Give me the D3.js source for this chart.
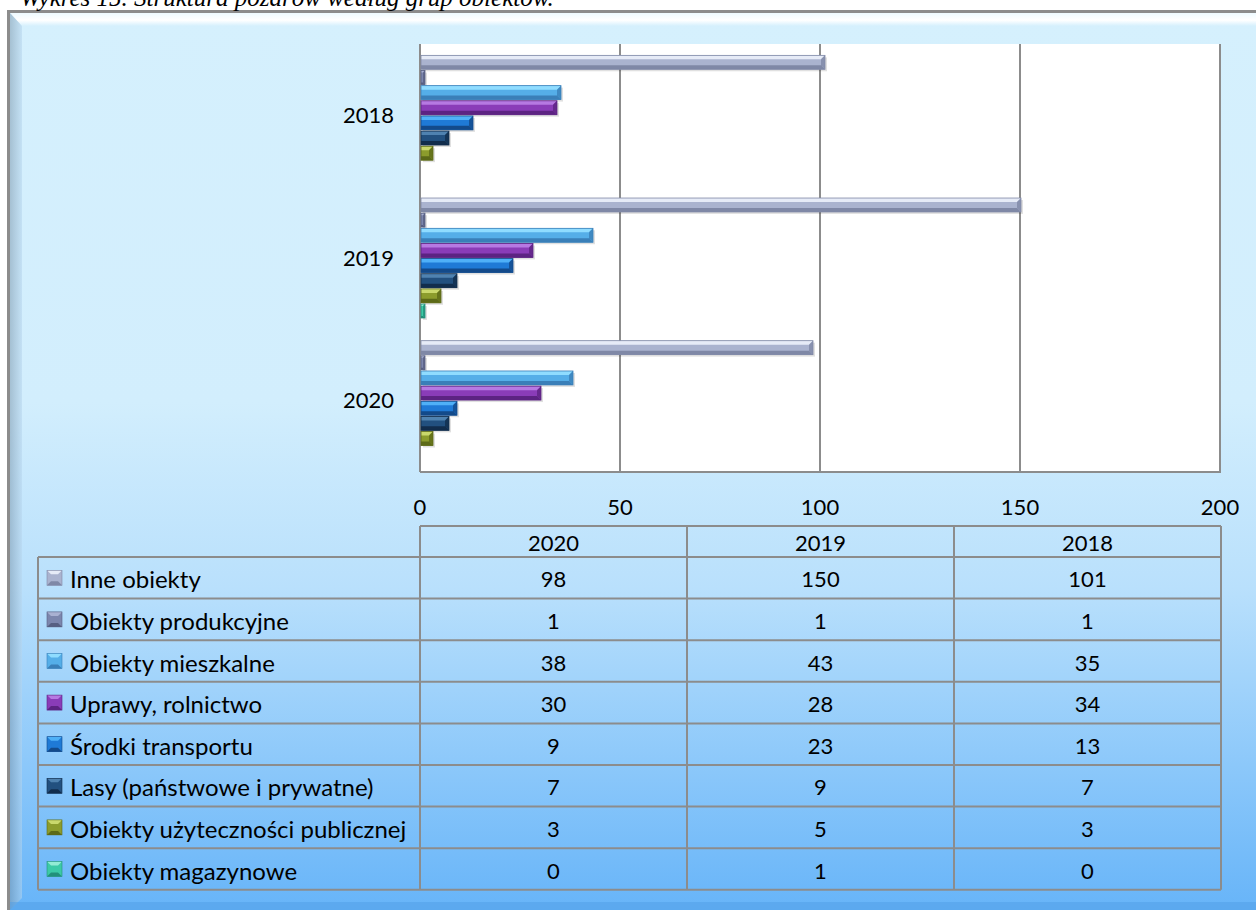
<!DOCTYPE html>
<html>
<head>
<meta charset="utf-8">
<script src="https://cdn.jsdelivr.net/npm/d3@7/dist/d3.min.js"></script>
<style>
  body { margin: 0; background: #fff; }
  svg { display: block; }
</style>
</head>
<body>
<script>
// chart data
var years = ["2020", "2019", "2018"];          // table column order
var chartYears = ["2018", "2019", "2020"];     // top-to-bottom in the chart
var seriesNames = [
  "Inne obiekty",
  "Obiekty produkcyjne",
  "Obiekty mieszkalne",
  "Uprawy, rolnictwo",
  "Środki transportu",
  "Lasy (państwowe i prywatne)",
  "Obiekty użyteczności publicznej",
  "Obiekty magazynowe"
];
var inneObiekty = [98, 150, 101];
var obiektyProdukcyjne = [1, 1, 1];
var obiektyMieszkalne = [38, 43, 35];
var uprawy = [30, 28, 34];
var srodkiTransportu = [9, 23, 13];
var lasy = [7, 9, 7];
var uzytecznosciPublicznej = [3, 5, 3];
var obiektyMagazynowe = [0, 1, 0];
var xTicks = [0, 50, 100, 150, 200];
var titleText = "Wykres 15. Struktura pożarów według grup obiektów.";

var seriesValues = [inneObiekty, obiektyProdukcyjne, obiektyMieszkalne, uprawy,
  srodkiTransportu, lasy, uzytecznosciPublicznej, obiektyMagazynowe];

// base / light / dark for each series
var palette = [
  { base: "#aab3cf", light: "#e6ebf7", dark: "#7f88a6" },
  { base: "#7c86ad", light: "#a9b1d2", dark: "#575f82" },
  { base: "#55aee8", light: "#8fdcff", dark: "#3a7fb8" },
  { base: "#8a3cb8", light: "#b679e2", dark: "#5c2382" },
  { base: "#1f7ad6", light: "#4fb0f7", dark: "#134a8a" },
  { base: "#22507f", light: "#4f82b0", dark: "#122d4c" },
  { base: "#8c9c2c", light: "#cad86c", dark: "#5c6a18" },
  { base: "#3ccaa6", light: "#93ecd4", dark: "#22907a" }
];

main();

function main() {
  setupCanvas();
  drawFrame();
  drawTitle();
  setupScales();
  drawPlotArea();
  drawBars();
  drawAxisLabels();
  drawTable();
}

function setupCanvas() {
  W = 1256;
  H = 910;
  plot = { left: 420, right: 1220, top: 44, bottom: 472 };
  svg = d3.select("body").append("svg")
    .attr("width", W)
    .attr("height", H);
  defs = svg.append("defs");
}

function drawFrame() {
  var bg = defs.append("linearGradient")
    .attr("id", "bg").attr("x1", 0).attr("y1", 0).attr("x2", 0).attr("y2", 1);
  bg.append("stop").attr("offset", "0%").attr("stop-color", "#d5f0fd");
  bg.append("stop").attr("offset", "42%").attr("stop-color", "#d2eefd");
  bg.append("stop").attr("offset", "62%").attr("stop-color", "#b9e0fc");
  bg.append("stop").attr("offset", "100%").attr("stop-color", "#5fb0f8");

  var top = defs.append("linearGradient")
    .attr("id", "topBevel").attr("x1", 0).attr("y1", 0).attr("x2", 0).attr("y2", 1);
  top.append("stop").attr("offset", "0%").attr("stop-color", "#eefaff");
  top.append("stop").attr("offset", "55%").attr("stop-color", "#ffffff");
  top.append("stop").attr("offset", "100%").attr("stop-color", "#d5f0fd");

  var left = defs.append("linearGradient")
    .attr("id", "leftBevel").attr("x1", 0).attr("y1", 0).attr("x2", 1).attr("y2", 0);
  left.append("stop").attr("offset", "0%").attr("stop-color", "#7f9ab0");
  left.append("stop").attr("offset", "100%").attr("stop-color", "#b7d6ee");

  svg.append("rect")
    .attr("x", 8.5).attr("y", 11.5)
    .attr("width", W + 20).attr("height", H + 20)
    .attr("fill", "url(#bg)")
    .attr("stroke", "#8c8c8c")
    .attr("stroke-width", 3);

  svg.append("polygon")
    .attr("points", [[10, 13], [W, 13], [W, 26], [22, 26]].join(" "))
    .attr("fill", "url(#topBevel)");

  svg.append("polygon")
    .attr("points", [[10, 13], [22, 26], [22, H - 12], [10, H]].join(" "))
    .attr("fill", "url(#leftBevel)")
    .attr("opacity", 0.55);

  svg.append("rect")
    .attr("x", 10).attr("y", H - 8).attr("width", W).attr("height", 8)
    .attr("fill", "#4f9ee6").attr("opacity", 0.5);
}

function drawTitle() {
  svg.append("text")
    .attr("x", 20).attr("y", 6)
    .style("font-family", "'Liberation Serif', serif")
    .style("font-style", "italic")
    .style("font-size", "25px")
    .attr("fill", "#000")
    .text(titleText);
}

function setupScales() {
  x = d3.scaleLinear().domain([0, 200]).range([plot.left, plot.right]);
  yOuter = d3.scaleBand().domain(chartYears).range([plot.top, plot.bottom]).paddingInner(0).paddingOuter(0);
  yInner = d3.scaleBand().domain(d3.range(seriesNames.length))
    .range([0, yOuter.bandwidth()]).paddingOuter(0.75).paddingInner(0.08);
}

function drawPlotArea() {
  svg.append("rect")
    .attr("x", plot.left).attr("y", plot.top)
    .attr("width", plot.right - plot.left).attr("height", plot.bottom - plot.top)
    .attr("fill", "#fff");

  svg.append("g").selectAll("line")
    .data(xTicks)
    .enter().append("line")
    .attr("x1", function (d) { return x(d); })
    .attr("x2", function (d) { return x(d); })
    .attr("y1", plot.top).attr("y2", plot.bottom)
    .attr("stroke", "#8c8c8c").attr("stroke-width", 2);

  svg.append("line")
    .attr("x1", plot.left).attr("x2", plot.right + 1)
    .attr("y1", plot.bottom).attr("y2", plot.bottom)
    .attr("stroke", "#8c8c8c").attr("stroke-width", 2);
}

// one bevelled bar, drawn into group g
function bevelBar(g, x0, y0, w, h, c) {
  var b = Math.min(4, w / 2, h / 3);
  var x1 = x0 + w, y1 = y0 + h;
  g.append("rect")
    .attr("x", x0 + 2).attr("y", y0 + 2).attr("width", w).attr("height", h)
    .attr("fill", "#000").attr("opacity", 0.12);
  g.append("rect")
    .attr("x", x0).attr("y", y0).attr("width", w).attr("height", h)
    .attr("fill", c.base);
  g.append("polygon")
    .attr("points", [[x0, y0], [x1, y0], [x1 - b, y0 + b], [x0, y0 + b]].join(" "))
    .attr("fill", c.light);
  g.append("polygon")
    .attr("points", [[x0, y1 - b], [x1 - b, y1 - b], [x1, y1], [x0, y1]].join(" "))
    .attr("fill", c.dark);
  g.append("polygon")
    .attr("points", [[x1 - b, y0 + b], [x1, y0], [x1, y1], [x1 - b, y1 - b]].join(" "))
    .attr("fill", c.dark).attr("opacity", 0.8);
  g.append("rect")
    .attr("x", x0).attr("y", y0).attr("width", w).attr("height", h)
    .attr("fill", "none").attr("stroke", c.dark).attr("stroke-width", 0.8);
}

function drawBars() {
  var rows = [];
  chartYears.forEach(function (yr) {
    var col = years.indexOf(yr);
    seriesValues.forEach(function (vals, si) {
      rows.push({ year: yr, series: si, value: vals[col] });
    });
  });
  var g = svg.append("g");
  rows.forEach(function (d) {
    if (d.value <= 0) return;
    var y0 = yOuter(d.year) + yInner(d.series);
    bevelBar(g, x(0) + 1, y0, x(d.value) - x(0), yInner.bandwidth(), palette[d.series]);
  });
}

function drawAxisLabels() {
  svg.append("g").selectAll("text")
    .data(xTicks)
    .enter().append("text")
    .attr("x", function (d) { return x(d); })
    .attr("y", 506)
    .attr("text-anchor", "middle")
    .attr("dominant-baseline", "central")
    .style("font-family", "Lato, sans-serif")
    .style("font-size", "22px")
    .text(function (d) { return d; });

  svg.append("g").selectAll("text")
    .data(chartYears)
    .enter().append("text")
    .attr("x", 394)
    .attr("y", function (d) { return yOuter(d) + yOuter.bandwidth() / 2 - 1; })
    .attr("text-anchor", "end")
    .attr("dominant-baseline", "central")
    .style("font-family", "Lato, sans-serif")
    .style("font-size", "22px")
    .text(function (d) { return d; });
}

function drawTable() {
  var tLeft = 38, headTop = 526, rowTop = 557, rowH = 41.6;
  var colX = d3.scaleBand().domain(years).range([plot.left, plot.right + 1]);
  var rowY = d3.scaleBand().domain(d3.range(seriesNames.length))
    .range([rowTop, rowTop + rowH * seriesNames.length]);
  var tBottom = rowTop + rowH * seriesNames.length;
  var g = svg.append("g");
  var stroke = "#8c8c8c";

  // grid lines
  g.append("line").attr("x1", plot.left).attr("x2", plot.right + 1)
    .attr("y1", headTop).attr("y2", headTop);
  g.selectAll(".hl")
    .data(d3.range(seriesNames.length + 1))
    .enter().append("line")
    .attr("x1", tLeft).attr("x2", plot.right + 1)
    .attr("y1", function (i) { return rowTop + i * rowH; })
    .attr("y2", function (i) { return rowTop + i * rowH; });
  g.append("line").attr("x1", tLeft).attr("x2", tLeft)
    .attr("y1", rowTop).attr("y2", tBottom);
  g.selectAll(".vl")
    .data(years.concat(["end"]))
    .enter().append("line")
    .attr("x1", function (d) { return d === "end" ? plot.right + 1 : colX(d); })
    .attr("x2", function (d) { return d === "end" ? plot.right + 1 : colX(d); })
    .attr("y1", headTop).attr("y2", tBottom);
  g.selectAll("line").attr("stroke", stroke).attr("stroke-width", 2);

  var font = "Lato, sans-serif";
  // header
  g.selectAll(".hd")
    .data(years)
    .enter().append("text")
    .attr("x", function (d) { return colX(d) + colX.bandwidth() / 2; })
    .attr("y", (headTop + rowTop) / 2 + 1)
    .attr("text-anchor", "middle").attr("dominant-baseline", "central")
    .style("font-family", font).style("font-size", "22px")
    .text(function (d) { return d; });

  seriesNames.forEach(function (name, si) {
    var cy = rowY(si) + rowH / 2;
    var c = palette[si];
    // legend key
    var kx = 47, ks = 15, ky = cy - ks / 2, kb = 4;
    g.append("rect").attr("x", kx).attr("y", ky).attr("width", ks).attr("height", ks).attr("fill", c.base);
    g.append("polygon")
      .attr("points", [[kx, ky], [kx + ks, ky], [kx + ks - kb, ky + kb], [kx + kb, ky + kb]].join(" "))
      .attr("fill", c.light);
    g.append("polygon")
      .attr("points", [[kx, ky + ks], [kx + ks, ky + ks], [kx + ks - kb, ky + ks - kb], [kx + kb, ky + ks - kb]].join(" "))
      .attr("fill", c.dark);
    g.append("rect").attr("x", kx).attr("y", ky).attr("width", ks).attr("height", ks)
      .attr("fill", "none").attr("stroke", c.dark).attr("stroke-width", 0.6);

    g.append("text")
      .attr("x", 70).attr("y", cy + 1)
      .attr("dominant-baseline", "central")
      .style("font-family", font).style("font-size", "24px")
      .text(name);

    years.forEach(function (yr, ci) {
      g.append("text")
        .attr("x", colX(yr) + colX.bandwidth() / 2)
        .attr("y", cy + 1)
        .attr("text-anchor", "middle").attr("dominant-baseline", "central")
        .style("font-family", font).style("font-size", "22px")
        .text(seriesValues[si][ci]);
    });
  });
}
</script>
</body>
</html>
